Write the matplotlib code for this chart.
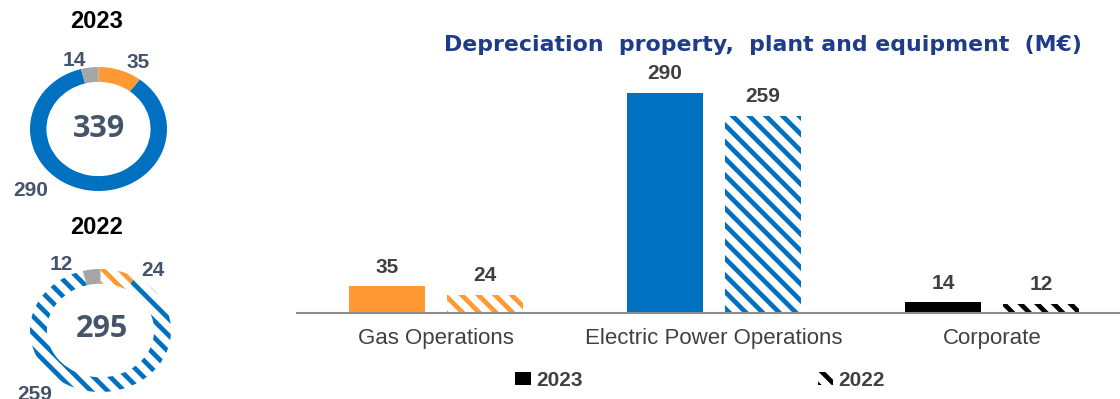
import matplotlib
matplotlib.use("Agg")
import matplotlib.pyplot as plt
import numpy as np
from matplotlib.patches import Patch

plt.rcParams["font.family"] = ["Liberation Sans", "DejaVu Sans"]
plt.rcParams["hatch.linewidth"] = 3.4

# --- data -------------------------------------------------------------------
categories = ["Gas Operations", "Electric Power Operations", "Corporate"]
values_2023 = [35, 290, 14]
values_2022 = [24, 259, 12]
totals = [339, 295]
years = ["2023", "2022"]

BLUE = "#0070C0"
ORANGE = "#FF9933"
GREY = "#A6A6A6"
TEXT = "#404040"
SLATE = "#44546A"
TITLE_BLUE = "#1F3C88"

bar_colors = [ORANGE, BLUE, "#000000"]
ring_colors = [ORANGE, BLUE, GREY]
STRIPES = "\\\\"

W, H = 1120, 399
fig = plt.figure(figsize=(W / 100, H / 100), dpi=100)


def box(x0, y0, x1, y1):
    """Pixel box (top-left origin) -> figure-fraction rect."""
    return [x0 / W, 1 - y1 / H, (x1 - x0) / W, (y1 - y0) / H]


def ftext(x, y, s, **kw):
    fig.text(x / W, 1 - y / H, s, ha="center", va="center", **kw)


# --- bar chart --------------------------------------------------------------
ax = fig.add_axes(box(297, 63, 1120, 313))
x = np.arange(len(categories))
bw = 0.273
off = 0.176
ax.bar(x - off, values_2023, bw, color=bar_colors, linewidth=0)
ax.bar(x + off, values_2022, bw, color="white", edgecolor=bar_colors,
       hatch=STRIPES, linewidth=0)

for xs, vals in ((x - off, values_2023), (x + off, values_2022)):
    for xi, v in zip(xs, vals):
        ax.annotate(str(v), (xi, v), xytext=(0, 7), textcoords="offset points",
                    ha="center", va="bottom", fontsize=15, fontweight="bold",
                    color=TEXT)

ax.set_xlim(-0.5, 2.46)
ax.set_ylim(0, 329)
ax.set_xticks(x, categories, fontsize=16, color=TEXT)
ax.tick_params(axis="x", length=0, pad=11)
ax.set_yticks([])
for side in ("top", "right", "left"):
    ax.spines[side].set_visible(False)
ax.spines["bottom"].set_color("#8C8C8C")
ax.spines["bottom"].set_linewidth(1.5)

ftext(763, 45, "Depreciation  property,  plant and equipment  (M€)",
      fontsize=15.8, fontweight="bold", color=TITLE_BLUE,
      family=["DejaVu Sans"])

handles = [Patch(facecolor="black", edgecolor="black", linewidth=0),
           Patch(facecolor="white", edgecolor="black", hatch=STRIPES, linewidth=0)]
fig.legend(handles, years, loc="center", bbox_to_anchor=(700 / W, 1 - 380 / H),
           ncol=2, frameon=False, handlelength=0.75, handleheight=0.6,
           handletextpad=0.25, columnspacing=11.3,
           prop={"size": 15, "weight": "bold"}, labelcolor=TEXT)

# --- donuts -----------------------------------------------------------------
def donut(rect, vals, hatched):
    dax = fig.add_axes(rect)
    wedges, _ = dax.pie(vals, startangle=90, counterclock=False,
                        wedgeprops=dict(width=0.24, linewidth=0))
    for w, c in zip(wedges, ring_colors):
        if hatched and c != GREY:
            w.set_facecolor("white")
            w.set_edgecolor(c)
            w.set_hatch(STRIPES)
        else:
            w.set_facecolor(c)
            w.set_edgecolor(c)
    dax.set_aspect("auto")
    dax.set_xlim(-1, 1)
    dax.set_ylim(-1, 1)
    dax.axis("off")
    return dax


donut(box(30, 67, 167, 191), values_2023, hatched=False)
donut(box(30, 269, 171, 392), values_2022, hatched=True)

ftext(97, 22, years[0], fontsize=17, fontweight="bold", color="black")
ftext(97, 228, years[1], fontsize=17, fontweight="bold", color="black")

ring_label = dict(fontsize=15, fontweight="bold", color=SLATE)
center_label = dict(fontsize=22, fontweight="bold", color=SLATE,
                    family=["Open Sans", "DejaVu Sans"])
ftext(138, 63, str(values_2023[0]), **ring_label)
ftext(31, 190, str(values_2023[1]), **ring_label)
ftext(74, 61, str(values_2023[2]), **ring_label)
ftext(99, 129, str(totals[0]), **center_label)

ftext(153, 270, str(values_2022[0]), **ring_label)
ftext(35, 395, str(values_2022[1]), **ring_label)
ftext(61, 264, str(values_2022[2]), **ring_label)
ftext(102, 329, str(totals[1]), **center_label)

fig.savefig("out.png", dpi=100)
